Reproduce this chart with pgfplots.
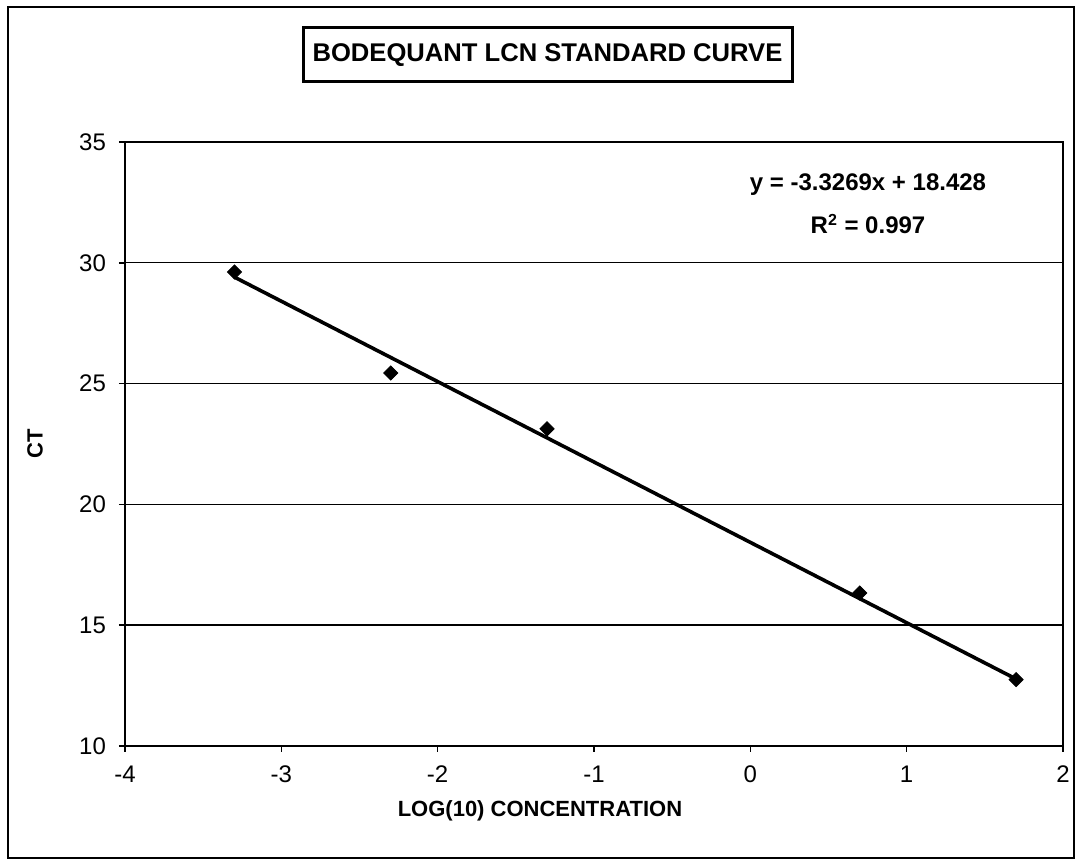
\documentclass[border=0pt]{standalone}
\usepackage{pgfplots}
\pgfplotsset{compat=1.18}
\usepackage{fontspec}
\setmainfont{Liberation Sans}
\begin{document}
\begin{tikzpicture}
\useasboundingbox (0,0) rectangle (539pt,432.5pt);
\draw[line width=0.9pt] (4pt,3.5pt) rectangle (537pt,429pt);
\begin{axis}[
  at={(62.5pt,59.5pt)}, anchor=south west,
  scale only axis, width=469pt, height=302pt,
  xmin=-4, xmax=2, ymin=10, ymax=35,
  xtick={-4,-3,-2,-1,0,1,2},
  ytick={10,15,20,25,30,35},
  axis line style={line width=1pt},
  tick style={black, line width=0.8pt},
  tick align=outside, major tick length=3pt,
  xtick pos=bottom, ytick pos=left,
  ymajorgrids, grid style={black, line width=0.7pt},
  /pgf/number format/assume math mode=true,
  ticklabel style={font=\fontsize{12}{14}\selectfont},
  xticklabel style={yshift=-3.5pt},
  yticklabel style={xshift=-3pt},
  xlabel={LOG(10) CONCENTRATION},
  ylabel={CT},
  xlabel style={font=\bfseries\fontsize{11}{13}\selectfont, at={(axis description cs:0.4424,0)}, anchor=center, yshift=-32.5pt},
  ylabel style={font=\bfseries\fontsize{11}{13}\selectfont, at={(axis description cs:0,0.5)}, anchor=center, yshift=45pt},
]
\addplot[black, line width=1.8pt, no marks] coordinates {(-3.3,29.407) (1.7,12.772)};
\addplot[only marks, mark=square*, mark size=2.5pt, mark options={rotate=45, fill=black, draw=black}] coordinates {
(-3.3,29.62) (-2.3,25.44) (-1.3,23.13) (0.7,16.33) (1.7,12.75)};
\end{axis}
\node[draw, line width=1.5pt, minimum width=244.5pt, minimum height=27pt, inner sep=0pt, font=\bfseries\fontsize{12.8}{15}\selectfont] at (273.75pt,405pt) {BODEQUANT LCN STANDARD CURVE};
\node[font=\bfseries\fontsize{12}{14}\selectfont] at (434pt,340pt) {y = -3.3269x + 18.428};
\node[font=\bfseries\fontsize{12}{14}\selectfont] at (434pt,320.5pt) {R\textsuperscript{2} = 0.997};
\end{tikzpicture}
\end{document}
